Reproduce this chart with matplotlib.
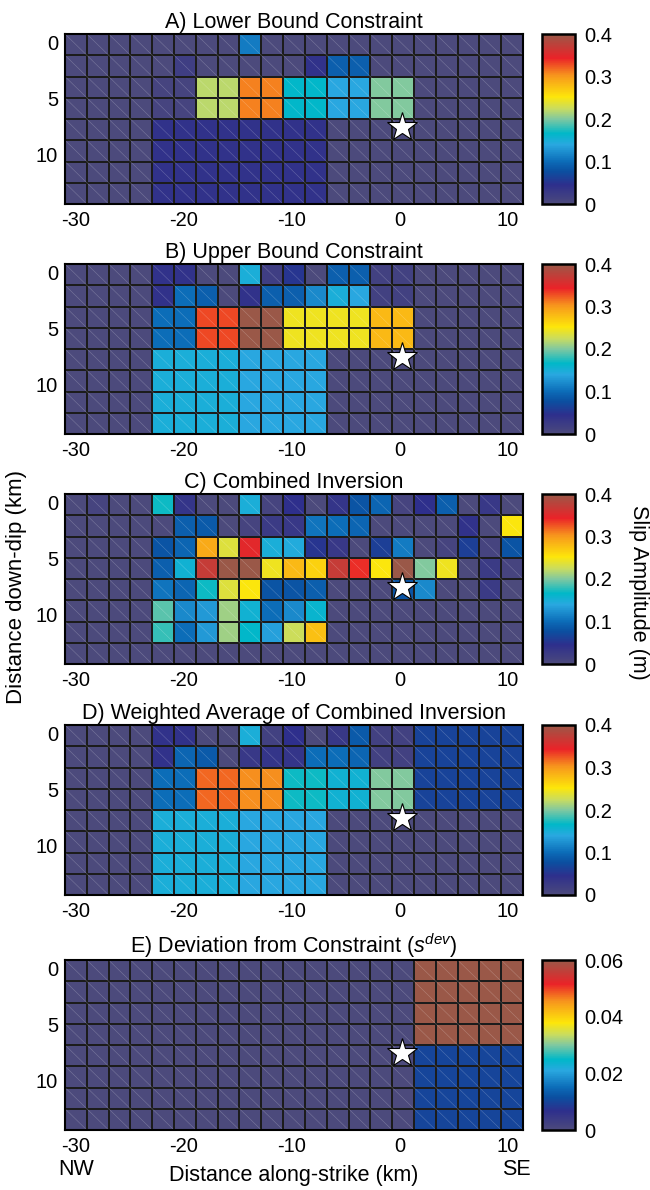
import numpy as np
import matplotlib
matplotlib.use('Agg')
import matplotlib.pyplot as plt
from matplotlib.colors import LinearSegmentedColormap
from matplotlib.collections import LineCollection

plt.rcParams['font.family'] = ['Liberation Sans', 'DejaVu Sans']
plt.rcParams['mathtext.fontset'] = 'custom'
plt.rcParams['mathtext.rm'] = 'Liberation Sans'
plt.rcParams['mathtext.it'] = 'Liberation Sans:italic'

# fault grid: 21 patches along strike, 8 down dip
x0, dx, nx = -31.0, 2.02, 21
y0, dy, ny = -0.8, 1.9, 8
hypo_x, hypo_y = 0.2, 7.5

Z = 0.0
lower = [
    [Z, Z, Z, Z, Z, Z, Z, Z, 0.11, Z, Z, Z, Z, Z, Z, Z, Z, Z, Z, Z, Z],
    [Z, Z, Z, Z, Z, 0.02, Z, Z, Z, Z, Z, 0.04, 0.09, 0.09, Z, Z, Z, Z, Z, Z, Z],
    [Z, Z, Z, Z, 0.01, 0.01, 0.22, 0.22, 0.31, 0.31, 0.165, 0.165, 0.14, 0.14, 0.2, 0.2, Z, Z, Z, Z, Z],
    [Z, Z, Z, Z, 0.01, 0.01, 0.22, 0.22, 0.31, 0.31, 0.165, 0.165, 0.14, 0.14, 0.2, 0.2, Z, Z, Z, Z, Z],
    [Z, Z, Z, Z, 0.04, 0.04, 0.04, 0.04, 0.04, 0.04, 0.04, 0.04, Z, Z, Z, Z, Z, Z, Z, Z, Z],
    [Z, Z, Z, Z, 0.04, 0.04, 0.04, 0.04, 0.04, 0.04, 0.04, 0.04, Z, Z, Z, Z, Z, Z, Z, Z, Z],
    [Z, Z, Z, Z, 0.04, 0.04, 0.04, 0.04, 0.04, 0.04, 0.04, 0.04, Z, Z, Z, Z, Z, Z, Z, Z, Z],
    [Z, Z, Z, Z, 0.04, 0.04, 0.04, 0.04, 0.04, 0.04, 0.04, 0.04, Z, Z, Z, Z, Z, Z, Z, Z, Z],
]
upper = [
    [Z, Z, Z, Z, 0.04, 0.04, Z, Z, 0.15, 0.02, 0.05, Z, 0.09, 0.09, 0.015, 0.015, Z, Z, Z, Z, Z],
    [Z, Z, Z, Z, 0.04, 0.1, 0.09, Z, 0.04, 0.09, 0.09, 0.12, 0.15, 0.14, 0.015, 0.015, Z, Z, Z, Z, Z],
    [Z, Z, Z, Z, 0.1, 0.1, 0.33, 0.33, 0.4, 0.4, 0.245, 0.245, 0.245, 0.245, 0.28, 0.28, Z, Z, Z, Z, Z],
    [Z, Z, Z, Z, 0.1, 0.1, 0.33, 0.33, 0.4, 0.4, 0.245, 0.245, 0.245, 0.245, 0.28, 0.28, Z, Z, Z, Z, Z],
    [Z, Z, Z, Z, 0.15, 0.15, 0.15, 0.15, 0.14, 0.14, 0.14, 0.14, Z, Z, Z, Z, Z, Z, Z, Z, Z],
    [Z, Z, Z, Z, 0.15, 0.15, 0.15, 0.15, 0.14, 0.14, 0.14, 0.14, Z, Z, Z, Z, Z, Z, Z, Z, Z],
    [Z, Z, Z, Z, 0.15, 0.15, 0.15, 0.15, 0.14, 0.14, 0.14, 0.14, Z, Z, Z, Z, Z, Z, Z, Z, Z],
    [Z, Z, Z, Z, 0.15, 0.15, 0.15, 0.15, 0.14, 0.14, 0.14, 0.14, Z, Z, Z, Z, Z, Z, Z, Z, Z],
]
combined = [
    [Z, 0.01, Z, Z, 0.17, 0.035, Z, Z, 0.15, 0.01, 0.045, Z, 0.035, 0.08, 0.095, 0.01, 0.045, 0.09, Z, 0.03, Z],
    [Z, Z, Z, Z, Z, 0.09, 0.085, Z, 0.01, 0.025, 0.03, 0.105, 0.1, 0.095, Z, Z, Z, Z, 0.04, Z, 0.25],
    [Z, Z, Z, Z, 0.08, 0.095, 0.29, 0.235, 0.35, 0.15, 0.145, 0.05, 0.03, Z, 0.06, 0.11, Z, 0.01, 0.06, 0.01, 0.08],
    [Z, Z, Z, Z, 0.09, 0.155, 0.37, 0.4, 0.4, 0.245, 0.28, 0.265, 0.37, 0.34, 0.25, 0.4, 0.2, 0.245, Z, 0.025, 0.01],
    [Z, Z, Z, Z, 0.105, 0.095, 0.17, 0.235, 0.25, 0.08, 0.08, 0.09, Z, Z, Z, 0.08, 0.12, Z, Z, 0.025, Z],
    [Z, Z, Z, Z, 0.19, 0.12, 0.13, 0.21, 0.155, 0.1, 0.12, 0.16, Z, Z, Z, Z, Z, Z, Z, Z, Z],
    [Z, Z, Z, Z, 0.18, 0.1, 0.13, 0.21, 0.165, 0.135, 0.225, 0.275, Z, Z, Z, Z, Z, Z, Z, Z, Z],
    [Z, Z, Z, Z, Z, Z, Z, Z, Z, Z, Z, Z, Z, Z, Z, Z, Z, Z, Z, Z, Z],
]
weighted = [
    [Z, Z, Z, Z, 0.04, 0.04, Z, Z, 0.15, 0.015, 0.045, Z, 0.03, 0.085, 0.015, 0.015, 0.065, 0.065, 0.065, 0.065, 0.065],
    [Z, Z, Z, Z, 0.04, 0.095, 0.085, Z, 0.03, 0.035, 0.035, 0.1, 0.1, 0.095, 0.015, 0.015, 0.065, 0.065, 0.065, 0.065, 0.065],
    [Z, Z, Z, Z, 0.1, 0.1, 0.32, 0.32, 0.305, 0.305, 0.17, 0.17, 0.155, 0.155, 0.2, 0.2, 0.065, 0.065, 0.065, 0.065, 0.065],
    [Z, Z, Z, Z, 0.1, 0.1, 0.32, 0.32, 0.305, 0.305, 0.17, 0.17, 0.155, 0.155, 0.2, 0.2, 0.065, 0.065, 0.065, 0.065, 0.065],
    [Z, Z, Z, Z, 0.15, 0.15, 0.15, 0.15, 0.14, 0.14, 0.14, 0.14, Z, Z, Z, Z, Z, Z, Z, Z, Z],
    [Z, Z, Z, Z, 0.15, 0.15, 0.15, 0.15, 0.14, 0.14, 0.14, 0.14, Z, Z, Z, Z, Z, Z, Z, Z, Z],
    [Z, Z, Z, Z, 0.15, 0.15, 0.15, 0.15, 0.14, 0.14, 0.14, 0.14, Z, Z, Z, Z, Z, Z, Z, Z, Z],
    [Z, Z, Z, Z, 0.15, 0.15, 0.15, 0.15, 0.14, 0.14, 0.14, 0.14, Z, Z, Z, Z, Z, Z, Z, Z, Z],
]
deviation = [
    [Z] * 16 + [0.06] * 5,
    [Z] * 16 + [0.06] * 5,
    [Z] * 16 + [0.06] * 5,
    [Z] * 16 + [0.06] * 5,
    [Z] * 16 + [0.01] * 5,
    [Z] * 16 + [0.01] * 5,
    [Z] * 16 + [0.01] * 5,
    [Z] * 16 + [0.01] * 5,
]

titles = ['A) Lower Bound Constraint', 'B) Upper Bound Constraint', 'C) Combined Inversion',
          'D) Weighted Average of Combined Inversion', r'E) Deviation from Constraint ($s^{dev}$)']
slips = [lower, upper, combined, weighted, deviation]
vmaxs = [0.4, 0.4, 0.4, 0.4, 0.06]
cticks = [[0, 0.1, 0.2, 0.3, 0.4]] * 4 + [[0, 0.02, 0.04, 0.06]]
ctick_labels = [['0', '0.1', '0.2', '0.3', '0.4']] * 4 + [['0', '0.02', '0.04', '0.06']]

# colour scale: grey-purple at zero through blue, cyan, yellow, red to brown
nodes = [(0.0, '#4c4a7c'), (0.11, '#2e2f8c'), (0.19, '#0b4fa0'), (0.25, '#0c6cb8'),
         (0.35, '#29a8e0'), (0.415, '#00b8c8'), (0.5, '#80c8a0'), (0.56, '#c8dc60'),
         (0.63, '#fde60a'), (0.76, '#f7941d'), (0.86, '#ea2328'), (1.0, '#9a5848')]
cmap = LinearSegmentedColormap.from_list('slip', nodes)

xe = x0 + dx * np.arange(nx + 1)
ye = y0 + dy * np.arange(ny + 1)

fig = plt.figure(figsize=(6.5, 11.9), dpi=100)
bottoms_px = [204, 434, 664, 895, 1130]
W, H = 650.0, 1190.0

for k in range(5):
    ax = fig.add_axes([65 / W, 1 - bottoms_px[k] / H, 458 / W, 170 / H])
    cax = fig.add_axes([542 / W, 1 - bottoms_px[k] / H, 33 / W, 170 / H])
    s = np.array(slips[k])
    pm = ax.pcolormesh(xe, ye, s, cmap=cmap, vmin=0, vmax=vmaxs[k],
                       edgecolors='#1c1c1c', linewidth=1.3)
    # each patch is split into two triangles
    segs = [[(xe[i], ye[j]), (xe[i + 1], ye[j + 1])] for i in range(nx) for j in range(ny)]
    ax.add_collection(LineCollection(segs, colors='white', linewidths=0.4, alpha=0.25))
    ax.plot(hypo_x, hypo_y, marker='*', ms=22, mfc='white', mec='black', mew=0.8)
    ax.set_xlim(xe[0], xe[-1])
    ax.set_ylim(ye[-1], ye[0])
    ax.set_xticks([-30, -20, -10, 0, 10])
    ax.set_xticklabels(['-30', '-20', '-10', '0', '10'])
    ax.set_yticks([0, 5, 10])
    ax.tick_params(length=0, labelsize=14.5, pad=5)
    for sp in ax.spines.values():
        sp.set_linewidth(1.5)
    ax.set_title(titles[k], fontsize=15.5, pad=4)

    cb = fig.colorbar(pm, cax=cax, ticks=cticks[k])
    cb.ax.set_yticklabels(ctick_labels[k])
    cb.ax.tick_params(length=0, labelsize=14.5, pad=7)
    cb.outline.set_linewidth(1.8)

    if k == 4:
        ax.text(-30, -0.235, 'NW', transform=ax.get_xaxis_transform(), ha='center', va='center', fontsize=15.5)
        ax.text(10.8, -0.235, 'SE', transform=ax.get_xaxis_transform(), ha='center', va='center', fontsize=15.5)

fig.text(294 / W, 1 - 1176 / H, 'Distance along-strike (km)', ha='center', va='center', fontsize=15.5)
fig.text(17 / W, 1 - 587 / H, 'Distance down-dip (km)', rotation=90, ha='center', va='center', fontsize=16)
fig.text(638 / W, 1 - 592 / H, 'Slip Amplitude (m)', rotation=270, ha='center', va='center', fontsize=15.5)

fig.savefig('out.png', dpi=100)
